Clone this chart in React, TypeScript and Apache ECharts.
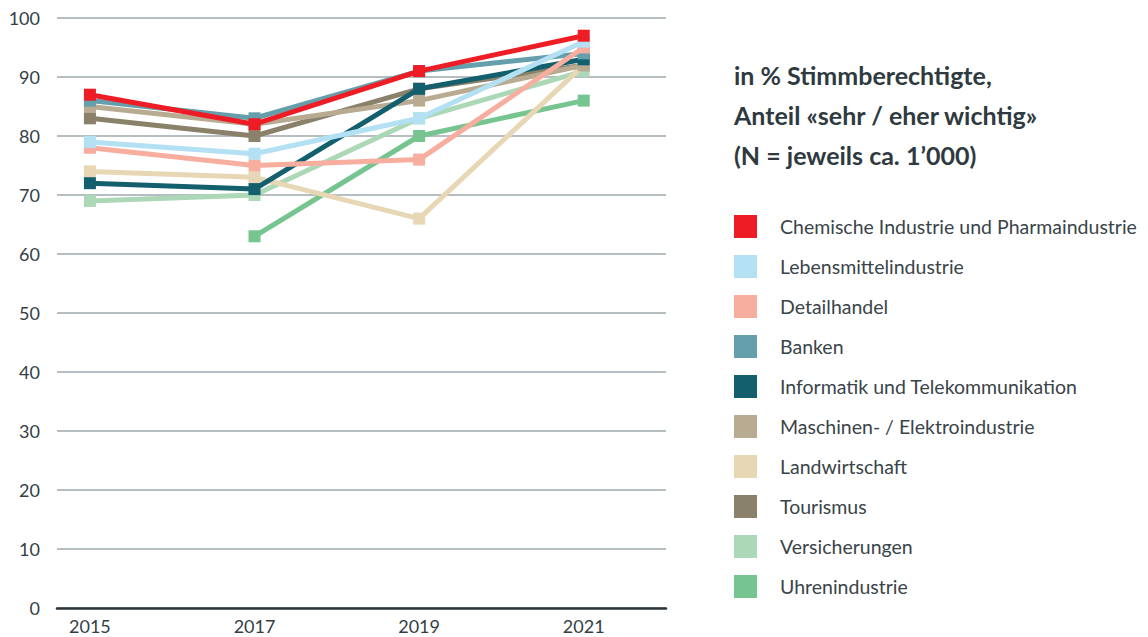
import React, { useEffect, useRef } from "react";
import * as echarts from "echarts";

const years = [2015, 2017, 2019, 2021];
const yTicks = [0, 10, 20, 30, 40, 50, 60, 70, 80, 90, 100];

const names = [
  "Chemische Industrie und Pharmaindustrie",
  "Lebensmittelindustrie",
  "Detailhandel",
  "Banken",
  "Informatik und Telekommunikation",
  "Maschinen- / Elektroindustrie",
  "Landwirtschaft",
  "Tourismus",
  "Versicherungen",
  "Uhrenindustrie",
];

const colors = [
  "#ee1c25",
  "#b3e1f3",
  "#f7ae9f",
  "#659fab",
  "#135f6e",
  "#b8ab91",
  "#e7d7b5",
  "#8a816b",
  "#add8b7",
  "#76c590",
];

const chemische = [87, 82, 91, 97];
const lebensmittel = [79, 77, 83, 96];
const detailhandel = [78, 75, 76, 95];
const banken = [86, 83, 91, 94];
const informatik = [72, 71, 88, 93];
const maschinen = [85, 82, 86, 92];
const landwirtschaft = [74, 73, 66, 92];
const tourismus = [83, 80, 88, 92];
const versicherungen = [69, 70, 83, 91];
const uhren = [null, 63, 80, 86];

const values = [
  chemische,
  lebensmittel,
  detailhandel,
  banken,
  informatik,
  maschinen,
  landwirtschaft,
  tourismus,
  versicherungen,
  uhren,
];

const titleLines = [
  "in % Stimmberechtigte,",
  "Anteil «sehr / eher wichtig»",
  "(N = jeweils ca. 1’000)",
];

export default function App() {
  const ref = useRef<HTMLDivElement>(null);
  useEffect(() => {
    if (!ref.current) return;
    const chart = echarts.init(ref.current, null, { renderer: "svg" });
    const font = "Lato, 'Noto Sans', sans-serif";
    const series: any[] = [];
    for (let i = names.length - 1; i >= 0; i--) {
      const data = years
        .map((y, j) => [y, values[i][j]])
        .filter((d) => d[1] !== null);
      series.push({
        name: names[i],
        type: "line",
        data,
        symbol: "rect",
        symbolSize: 12,
        lineStyle: { width: 5, color: colors[i] },
        itemStyle: { color: colors[i] },
        color: colors[i],
        z: 10 + (names.length - i),
      });
    }
    chart.setOption({
      animation: false,
      textStyle: { fontFamily: font },
      grid: { left: 57, right: 482, top: 18, bottom: 29 },
      xAxis: {
        type: "value",
        min: 2014.6,
        max: 2022,
        axisLine: { show: true, onZero: false, lineStyle: { color: "#2b353b", width: 2.5 } },
        axisTick: { show: false },
        splitLine: { show: false },
        axisLabel: {
          customValues: years,
          formatter: (v: number) => String(v),
          color: "#343e44",
          fontSize: 18,
          fontFamily: font,
          margin: 9,
        },
      },
      yAxis: {
        type: "value",
        min: 0,
        max: 100,
        interval: 10,
        axisLine: { show: false },
        axisTick: { show: false },
        splitLine: { lineStyle: { color: "#9ea8ad", width: 1.5 } },
        axisLabel: {
          color: "#343e44",
          fontSize: 18,
          fontFamily: font,
          margin: 17,
          formatter: (v: number) => (yTicks.includes(v) ? String(v) : ""),
        },
      },
      legend: {
        orient: "vertical",
        left: 734,
        top: 215,
        padding: 0,
        icon: "rect",
        itemWidth: 23,
        itemHeight: 23,
        itemGap: 17,
        data: names,
        selectedMode: false,
        textStyle: {
          color: "#3a4449",
          fontSize: 19.5,
          fontFamily: font,
          padding: [0, 0, 0, 18],
        },
      },
      graphic: titleLines.map((t, k) => ({
        type: "text",
        x: 734,
        y: 75 + k * 40,
        style: {
          text: t,
          fill: "#2e3a40",
          font: `bold 25px ${font}`,
          verticalAlign: "middle",
        },
      })),
      series,
    });
    return () => chart.dispose();
  }, []);
  return <div ref={ref} style={{ width: 1148, height: 637, position: "absolute", left: 0, top: 0 }} />;
}
